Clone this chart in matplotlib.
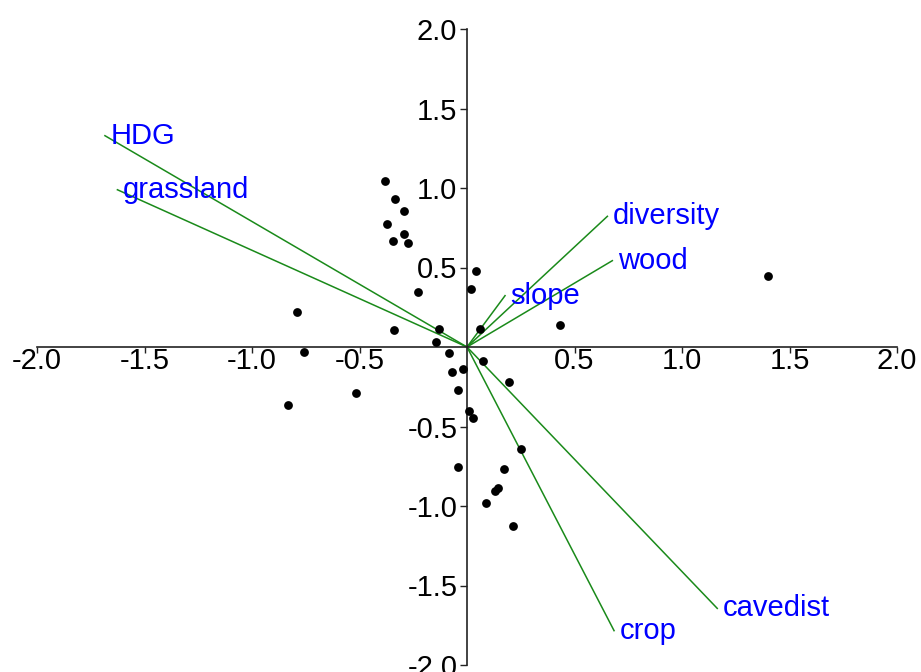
import matplotlib
matplotlib.use("Agg")
import matplotlib.pyplot as plt

plt.rcParams['font.family'] = ['Liberation Sans', 'DejaVu Sans']

# Site scores
site_x = [-0.381, -0.335, -0.294, -0.372, -0.292, -0.343, -0.273, 0.042, 0.017, -0.226,
          -0.792, -0.341, -0.129, -0.144, 0.059, -0.758, -0.084, -0.068, -0.516, -0.833,
          -0.040, -0.019, 0.073, 0.194, 0.011, 0.026, 0.250, -0.040, 0.174, 0.146,
          0.132, 0.088, 0.212, 0.433, 1.400]
site_y = [1.044, 0.929, 0.857, 0.774, 0.713, 0.667, 0.652, 0.476, 0.365, 0.344,
          0.222, 0.105, 0.115, 0.033, 0.113, -0.030, -0.038, -0.159, -0.291, -0.365,
          -0.268, -0.140, -0.088, -0.220, -0.400, -0.446, -0.642, -0.757, -0.765, -0.885,
          -0.908, -0.981, -1.128, 0.138, 0.447]

# Environmental vectors
env_names = ["HDG", "grassland", "diversity", "wood", "slope", "cavedist", "crop"]
env_x = [-1.684, -1.626, 0.653, 0.676, 0.177, 1.164, 0.684]
env_y = [1.329, 0.989, 0.822, 0.543, 0.323, -1.644, -1.784]

ticks = [-2.0, -1.5, -1.0, -0.5, 0.5, 1.0, 1.5, 2.0]
tick_labels = ["-2.0", "-1.5", "-1.0", "-0.5", "0.5", "1.0", "1.5", "2.0"]

fig = plt.figure(figsize=(9.21, 6.72), dpi=100)
ax = fig.add_axes([37/921, 1-665/672, (897-37)/921, (665-29)/672])
ax.set_xlim(-2, 2)
ax.set_ylim(-2, 2)

for nm, ex, ey in zip(env_names, env_x, env_y):
    ax.plot([0, ex], [0, ey], color='#1a8a1a', lw=1.1, zorder=2)
    ax.annotate(nm, (ex, ey), xytext=(4, 0), textcoords='offset points',
                ha='left', va='center', color='#0000ff', fontsize=21, zorder=4)

ax.scatter(site_x, site_y, s=40, color='black', zorder=3, linewidths=0)

for s in ['top', 'right']:
    ax.spines[s].set_visible(False)
ax.spines['left'].set_position(('data', 0))
ax.spines['bottom'].set_position(('data', 0))
for s in ['left', 'bottom']:
    ax.spines[s].set_color('#222222')
    ax.spines[s].set_linewidth(1.2)

ax.set_xticks(ticks)
ax.set_xticklabels(tick_labels)
ax.set_yticks(ticks)
ax.set_yticklabels(tick_labels)
ax.tick_params(axis='x', direction='out', length=4, width=1, pad=-4, labelsize=21, colors='#222222', labelcolor='black')
ax.tick_params(axis='y', direction='out', length=5, width=1, pad=2, labelsize=21, colors='#222222', labelcolor='black')
ax.patch.set_visible(False)

fig.savefig("out.png", dpi=100)
